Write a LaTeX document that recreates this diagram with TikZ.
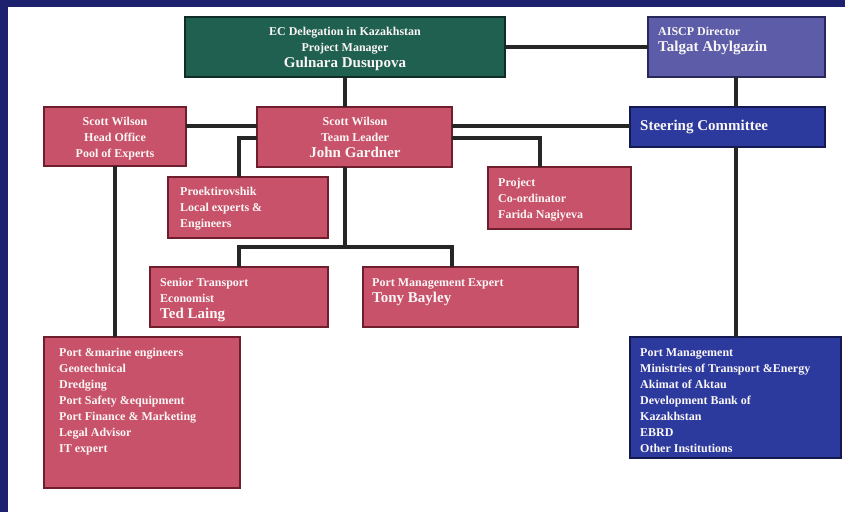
\documentclass[tikz,border=0pt]{standalone}
\usepackage{fontspec}
\setmainfont{Liberation Serif}
\definecolor{pinkfill}{RGB}{200,82,106}
\definecolor{pinkedge}{RGB}{110,30,45}
\definecolor{greenfill}{RGB}{32,96,80}
\definecolor{greenedge}{RGB}{15,45,38}
\definecolor{slatefill}{RGB}{92,92,168}
\definecolor{slateedge}{RGB}{40,40,90}
\definecolor{bluefill}{RGB}{44,58,158}
\definecolor{blueedge}{RGB}{20,25,80}
\definecolor{framecol}{RGB}{30,34,110}
\definecolor{txtcol}{RGB}{250,246,246}
\tikzset{
  boxbase/.style={anchor=north west, inner sep=0pt, outer sep=0pt, line width=1.3pt},
  pbox/.style={boxbase, fill=pinkfill, draw=pinkedge},
  gbox/.style={boxbase, fill=greenfill, draw=greenedge},
  sbox/.style={boxbase, fill=slatefill, draw=slateedge},
  bbox/.style={boxbase, fill=bluefill, draw=blueedge},
  txt/.style={text=txtcol, inner sep=0pt, font=\bfseries\fontsize{12}{16}\selectfont},
  txtl/.style={txt, anchor=north west, align=left},
  txtc/.style={txt, anchor=north, align=center},
  conn/.style={line width=3.2pt, draw=black!85}
}
\newcommand{\bigname}[1]{{\fontsize{15}{18}\selectfont #1}}
\begin{document}
\begin{tikzpicture}[x=1pt,y=-1pt]
\useasboundingbox (0,0) rectangle (845,512);
\fill[white] (0,0) rectangle (845,512);
\fill[framecol] (0,0) rectangle (845,7);
\fill[framecol] (0,0) rectangle (8,512);

% boxes
\node[gbox, minimum width=320pt, minimum height=60pt] (ec) at (185,17) {};
\node[sbox, minimum width=177pt, minimum height=60pt] (ai) at (648,17) {};
\node[bbox, minimum width=195pt, minimum height=40pt] (sc) at (630,107) {};
\node[pbox, minimum width=142pt, minimum height=59pt] (hq) at (44,107) {};
\node[pbox, minimum width=195pt, minimum height=60pt] (tl) at (257,107) {};
\node[pbox, minimum width=160pt, minimum height=61pt] (pr) at (168,177) {};
\node[pbox, minimum width=143pt, minimum height=62pt] (pc) at (488,167) {};
\node[pbox, minimum width=178pt, minimum height=60pt] (st) at (150,267) {};
\node[pbox, minimum width=215pt, minimum height=60pt] (pm) at (363,267) {};
\node[pbox, minimum width=196pt, minimum height=151pt] (pe) at (44,337) {};
\node[bbox, minimum width=211pt, minimum height=121pt] (in) at (630,337) {};

% texts
\node[txtc] (ect) at (345,27) {EC Delegation in Kazakhstan\\Project Manager\\\bigname{Gulnara Dusupova}};
\node[txtl] (ait) at (658,27) {AISCP Director\\\bigname{Talgat Abylgazin}};
\node[txt, anchor=west] (sct) at (640,127) {\bigname{Steering Committee}};
\node[txtc] (hqt) at (115,117) {Scott Wilson\\Head Office\\Pool of Experts};
\node[txtc] (tlt) at (355,117) {Scott Wilson\\Team Leader\\\bigname{John Gardner}};
\node[txtl] (prt) at (180,187) {Proektirovshik\\Local experts \&\\Engineers};
\node[txtl] (pct) at (498,178) {Project\\Co-ordinator\\Farida Nagiyeva};
\node[txtl] (stt) at (160,278) {Senior Transport\\Economist\\\bigname{Ted Laing}};
\node[txtl] (pmt) at (372,278) {Port Management Expert\\\bigname{Tony Bayley}};
\node[txtl] (pet) at (59,348) {Port \&marine engineers\\Geotechnical\\Dredging\\Port Safety \&equipment\\Port Finance \& Marketing\\Legal Advisor\\IT expert};
\node[txtl] (int) at (640,348) {Port Management\\Ministries of Transport \&Energy\\Akimat of Aktau\\Development Bank of\\Kazakhstan\\EBRD\\Other Institutions};

% helper coordinates
\coordinate (ya) at (0,47);
\coordinate (yb) at (0,126);
\coordinate (yc) at (0,138);
\coordinate (yd) at (0,247);
\coordinate (xa) at (345,0);
\coordinate (xb) at (736,0);
\coordinate (xc) at (239,0);
\coordinate (xd) at (540,0);
\coordinate (xe) at (452,0);
\coordinate (xf) at (115,0);

% connectors
\draw[conn] (ec.east |- ya) -- (ai.west |- ya);
\draw[conn] (xa |- ec.south) -- (xa |- tl.north);
\draw[conn] (xb |- ai.south) -- (xb |- sc.north);
\draw[conn] (hq.east |- yb) -- (tl.west |- yb);
\draw[conn] (tl.east |- yb) -- (sc.west |- yb);
\draw[conn] (tl.west |- yc) -- (xc |- yc) -- (xc |- pr.north);
\draw[conn] (tl.east |- yc) -- (xd |- yc) -- (xd |- pc.north);
\draw[conn] (xa |- tl.south) -- (xa |- yd);
\draw[conn] (xc |- st.north) -- (xc |- yd) -- (xe |- yd) -- (xe |- pm.north);
\draw[conn] (xf |- hq.south) -- (xf |- pe.north);
\draw[conn] (xb |- sc.south) -- (xb |- in.north);
\end{tikzpicture}
\end{document}
